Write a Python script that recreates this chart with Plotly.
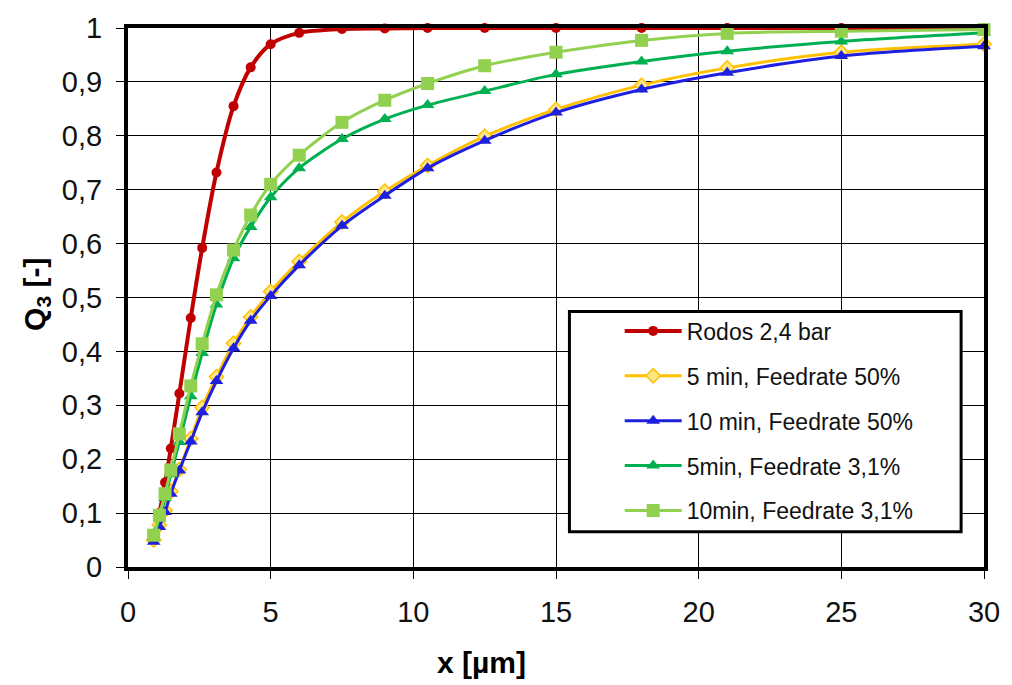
import plotly.graph_objects as go

x_um = [0.9, 1.1, 1.3, 1.5, 1.8, 2.2, 2.6, 3.1, 3.7, 4.3, 5.0, 6.0, 7.5, 9.0, 10.5, 12.5, 15, 18, 21, 25, 30]

rodos = [0.055, 0.10, 0.157, 0.22, 0.322, 0.462, 0.592, 0.732, 0.855, 0.927, 0.970, 0.991, 0.998, 0.999, 1.0, 1.0, 1.0, 1.0, 1.0, 1.0, 1.0]
min5_fr50 = [0.050, 0.078, 0.105, 0.140, 0.181, 0.238, 0.296, 0.353, 0.415, 0.464, 0.511, 0.567, 0.640, 0.697, 0.745, 0.799, 0.849, 0.894, 0.926, 0.955, 0.970]
min10_fr50 = [0.047, 0.074, 0.102, 0.136, 0.179, 0.233, 0.287, 0.345, 0.406, 0.457, 0.503, 0.560, 0.633, 0.689, 0.740, 0.791, 0.843, 0.886, 0.917, 0.948, 0.966]
min5_fr31 = [0.055, 0.090, 0.128, 0.172, 0.232, 0.317, 0.397, 0.487, 0.573, 0.631, 0.686, 0.740, 0.794, 0.831, 0.857, 0.883, 0.914, 0.938, 0.957, 0.975, 0.991]
min10_fr31 = [0.059, 0.096, 0.136, 0.180, 0.247, 0.336, 0.414, 0.505, 0.588, 0.653, 0.710, 0.764, 0.825, 0.866, 0.897, 0.930, 0.955, 0.977, 0.990, 0.994, 0.997]

names = ["Rodos 2,4 bar", "5 min, Feedrate 50%", "10 min, Feedrate 50%",
         "5min, Feedrate 3,1%", "10min, Feedrate 3,1%"]
series = [rodos, min5_fr50, min10_fr50, min5_fr31, min10_fr31]
colors = ["#C00000", "#FFC000", "#1F1FE0", "#00B050", "#92D050"]
symbols = ["circle", "diamond", "triangle-up", "triangle-up", "square"]
msizes = [10, 11, 12, 12, 13]
lwidths = [4, 3, 3, 3, 3]
mfill = ["#C00000", "#FFE680", "#1F1FE0", "#00B050", "#92D050"]

W, H = 1012, 685
L, R, T, B = 128, 24, 25, 118
pw, ph = W - L - R, H - T - B

def px2x(p):
    return (p - L) / pw

def px2y(p):
    return (H - B - p) / ph

fig = go.Figure()
for i, (nm, ys) in enumerate(zip(names, series)):
    fig.add_trace(go.Scatter(
        x=x_um, y=ys, name=nm, mode="lines+markers",
        line=dict(color=colors[i], width=lwidths[i], shape="spline", smoothing=0.8),
        marker=dict(symbol=symbols[i], size=msizes[i], color=mfill[i],
                    line=dict(color=colors[i], width=1.5 if i == 1 else 0)),
        cliponaxis=False, legendgroup=f"g{i}",
    ))

font_family = "Liberation Sans, Arial, sans-serif"

fig.update_layout(
    width=W, height=H,
    margin=dict(l=L, r=R, t=T, b=B),
    paper_bgcolor="white", plot_bgcolor="white",
    separators=", ",
    font=dict(family=font_family, color="black"),
    showlegend=True,
    legend=dict(
        x=px2x(622), y=px2y(308), xanchor="left", yanchor="top",
        bgcolor="rgba(0,0,0,0)", borderwidth=0,
        font=dict(size=23, family=font_family, color="#111111"),
        traceorder="grouped", tracegroupgap=12, itemwidth=57,
    ),
    xaxis=dict(
        range=[0, 30], dtick=5, tick0=0,
        showgrid=True, gridcolor="black", gridwidth=1.3,
        showline=True, linecolor="black", linewidth=4, mirror=True,
        ticks="outside", ticklen=8, tickwidth=1.3, tickcolor="black",
        tickfont=dict(size=29, family=font_family, color="#111111"),
        ticklabelstandoff=8, zeroline=False,
    ),
    yaxis=dict(
        range=[0, 1], dtick=0.1, tick0=0,
        showgrid=True, gridcolor="black", gridwidth=1.3,
        showline=True, linecolor="black", linewidth=4, mirror=True,
        ticks="outside", ticklen=8, tickwidth=1.3, tickcolor="black",
        tickfont=dict(size=29, family=font_family, color="#111111"),
        ticklabelstandoff=8, zeroline=False,
    ),
    shapes=[dict(
        type="rect", xref="paper", yref="paper",
        x0=px2x(571.5), x1=px2x(965), y0=px2y(531.5), y1=px2y(310),
        line=dict(color="black", width=3), fillcolor="white", layer="above",
    )],
    annotations=[
        dict(text="<b>x [µm]</b>", xref="paper", yref="paper",
             x=px2x(483), y=px2y(663), xanchor="center", yanchor="middle",
             showarrow=False, font=dict(size=30, family=font_family, color="black")),
        dict(text="<b>Q<sub>3</sub> [-]</b>", xref="paper", yref="paper",
             x=px2x(36), y=px2y(293), xanchor="center", yanchor="middle",
             textangle=-90, showarrow=False,
             font=dict(size=30, family=font_family, color="black")),
    ],
)

fig.write_html("out.html")
